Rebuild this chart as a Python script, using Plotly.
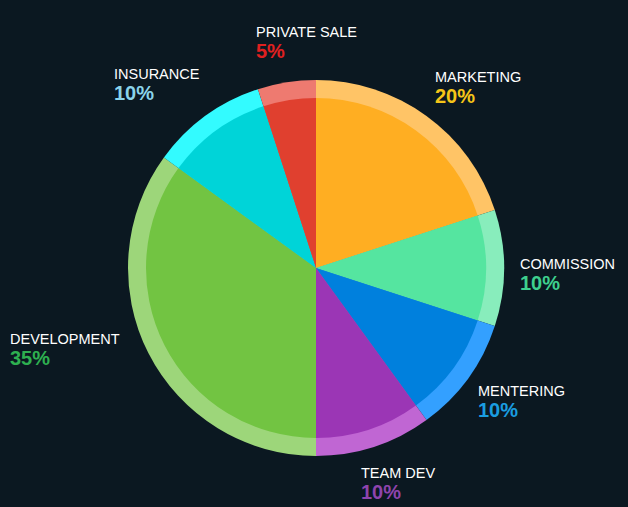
import math
import plotly.graph_objects as go

categories = ["MARKETING", "COMMISSION", "MENTERING", "TEAM DEV", "DEVELOPMENT", "INSURANCE", "PRIVATE SALE"]
values = [20, 10, 10, 10, 35, 10, 5]
slice_colors = ["#ffae22", "#55e5a0", "#0080dd", "#9b36b5", "#72c442", "#00d4d8", "#e0402f"]
ring_colors = ["#ffc466", "#88edbc", "#33a0ff", "#c066d3", "#9dd67a", "#33fbff", "#ee7a70"]
pct_colors = ["#f5c518", "#3ed08e", "#1a9de0", "#8e44ad", "#2eb050", "#8ad4ea", "#e02020"]

W, H = 628, 507
cx, cy = 316, 268          # pie centre in pixels (from top-left)
r_out, r_in = 188, 170
r_lab = 200
bg = "#0b1821"

def dom(r):
    return dict(x=[(cx - r) / W, (cx + r) / W],
                y=[(H - cy - r) / H, (H - cy + r) / H])

fig = go.Figure()
fig.add_trace(go.Pie(labels=categories, values=values, sort=False, direction="clockwise",
                     rotation=0, marker=dict(colors=ring_colors, line=dict(width=0)),
                     textinfo="none", hoverinfo="skip", domain=dom(r_out), showlegend=False))
fig.add_trace(go.Pie(labels=categories, values=values, sort=False, direction="clockwise",
                     rotation=0, marker=dict(colors=slice_colors, line=dict(width=0)),
                     textinfo="none", domain=dom(r_in), showlegend=False))

# label nudges (pixels) for placement fine-tuning
nudges = {"TEAM DEV": (-19, 5), "DEVELOPMENT": (-16, -9), "PRIVATE SALE": (22, -6),
          "COMMISSION": (2, 7), "MARKETING": (-1, 3), "MENTERING": (-2, -5),
          "INSURANCE": (4, 0)}

total = sum(values)
acc = 0
for name, v, pc in zip(categories, values, pct_colors):
    mid = (acc + v / 2) / total * 2 * math.pi
    acc += v
    s, c = math.sin(mid), math.cos(mid)
    px = cx + r_lab * s
    py = cy - r_lab * c
    dx, dy = nudges.get(name, (0, 0))
    px += dx
    py += dy
    xa = "left" if s > 0.2 else ("right" if s < -0.2 else "center")
    ya = "bottom" if c > 0.5 else ("top" if c < -0.5 else "middle")
    pct = round(v / total * 100)
    fig.add_annotation(x=px / W, y=(H - py) / H, xref="paper", yref="paper",
                       xanchor=xa, yanchor=ya, align="left", showarrow=False,
                       text=f"<span style='font-size:14.5px;color:#ffffff'>{name}</span><br>"
                            f"<b><span style='font-size:20px;color:{pc}'>{pct}%</span></b>",
                       font=dict(family="Liberation Sans, Arial, sans-serif", size=16, color="#ffffff"))

fig.update_layout(width=W, height=H, margin=dict(l=0, r=0, t=0, b=0),
                  paper_bgcolor=bg, plot_bgcolor=bg)
fig.write_html("out.html", config={"displayModeBar": False},
               post_script="document.body.style.margin='0';document.body.style.background='%s';" % bg)
